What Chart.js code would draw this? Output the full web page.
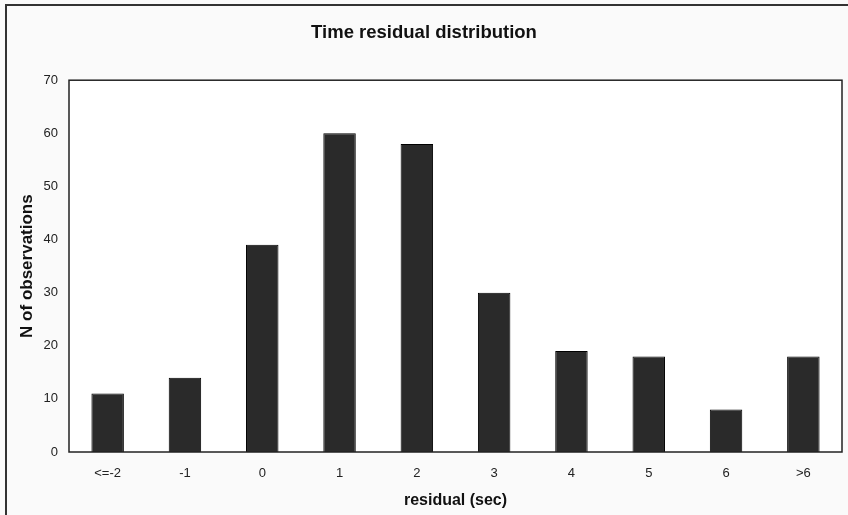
<!DOCTYPE html>
<html>
<head>
<meta charset="utf-8">
<script src="https://cdn.jsdelivr.net/npm/chart.js@4"></script>
<style>
  body { margin: 0; background: #fff; }
  #wrap { width: 848px; height: 515px; position: relative; }
</style>
</head>
<body>
<div id="wrap"><canvas id="chart" width="848" height="515"></canvas></div>
<script>
const categories = ["<=-2", "-1", "0", "1", "2", "3", "4", "5", "6", ">6"];
const counts = [11, 14, 39, 60, 58, 30, 19, 18, 8, 18];
const yTicks = [0, 10, 20, 30, 40, 50, 60, 70];

// frame round the plot area and the outer chart border
const frames = {
  id: "frames",
  beforeDraw(chart) {
    const c = chart.ctx;
    c.save();
    c.fillStyle = "#fafafa";
    c.fillRect(0, 0, chart.width, chart.height);
    c.strokeStyle = "#333";
    c.lineWidth = 2;
    c.beginPath();
    c.moveTo(6, 515);
    c.lineTo(6, 5);
    c.lineTo(848, 5);
    c.stroke();
    const a = chart.chartArea;
    c.fillStyle = "#fff";
    c.fillRect(a.left, a.top, a.right - a.left, a.bottom - a.top);
    c.restore();
  },
  afterDatasetsDraw(chart) {
    const c = chart.ctx;
    const a = chart.chartArea;
    c.save();
    c.strokeStyle = "#222";
    c.lineWidth = 1.5;
    c.strokeRect(a.left, a.top, a.right - a.left, a.bottom - a.top);
    c.restore();
  }
};

function mainEvent() {
  const ctx = document.getElementById("chart");
  new Chart(ctx, {
    type: "bar",
    data: {
      labels: categories,
      datasets: [
        {
          data: counts,
          backgroundColor: "#2a2a2a",
          borderColor: "#000",
          borderWidth: 1,
          barPercentage: 0.42,
          categoryPercentage: 1.0,
        },
      ],
    },
    options: {
      responsive: false,
      animation: false,
      layout: { padding: { left: 6, right: 6, top: 0, bottom: 0 } },
      plugins: {
        legend: { display: false },
        tooltip: { enabled: false },
        title: {
          display: true,
          text: "Time residual distribution",
          color: "#111",
          font: { family: "Liberation Sans", size: 18.5, weight: "bold" },
          padding: { top: 22, bottom: 36 },
        },
      },
      scales: {
        x: {
          grid: { display: false },
          border: { display: false },
          ticks: {
            color: "#222",
            font: { family: "Liberation Sans", size: 13 },
            padding: 6,
          },
          title: {
            display: true,
            text: "residual (sec)",
            color: "#111",
            font: { family: "Liberation Sans", size: 16, weight: "bold" },
            padding: { top: 4, bottom: 5 },
          },
          afterFit(scale) { scale.height = 63; },
        },
        y: {
          min: 0,
          max: 70,
          afterBuildTicks(scale) { scale.ticks = yTicks.map(v => ({ value: v })); },
          grid: { display: false },
          border: { display: false },
          ticks: {
            color: "#222",
            font: { family: "Liberation Sans", size: 13 },
            padding: 3,
          },
          title: {
            display: true,
            text: "N of observations",
            color: "#111",
            font: { family: "Liberation Sans", size: 17, weight: "bold" },
            padding: { top: 11, bottom: 4 },
          },
          afterFit(scale) { scale.width = 63; },
        },
      },
    },
    plugins: [frames],
  });
}
document.addEventListener("DOMContentLoaded", () => mainEvent());
</script>
</body>
</html>
